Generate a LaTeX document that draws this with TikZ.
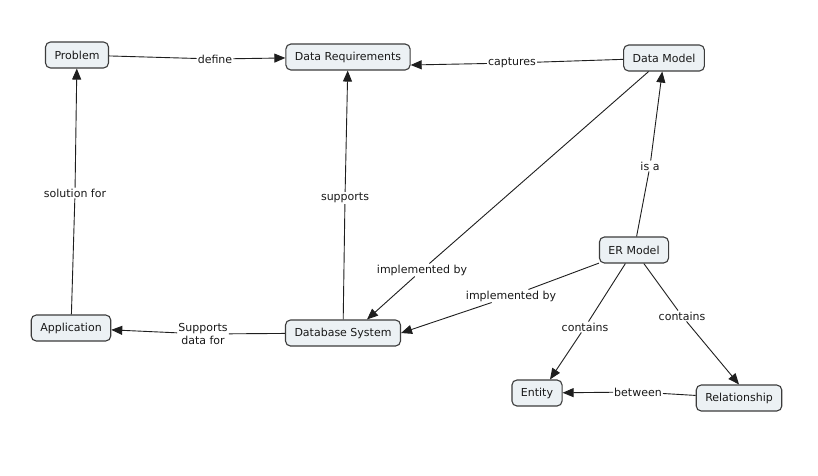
\documentclass[tikz,border=0pt]{standalone}
\usepackage{fontspec}
\setmainfont{DejaVu Sans}
\usetikzlibrary{arrows.meta}
\definecolor{boxfill}{RGB}{236,241,244}
\definecolor{boxdraw}{RGB}{60,60,60}
\definecolor{linec}{RGB}{30,30,30}
\begin{document}
\begin{tikzpicture}[x=1pt,y=-1pt,
  concept/.style={draw=boxdraw, line width=1.1pt, fill=boxfill, rounded corners=5pt,
    inner xsep=9pt, inner ysep=2pt, minimum height=26pt, text=black!90,
    font=\fontsize{11}{13}\selectfont},
  lbl/.style={inner sep=1pt, align=center, text=black!90, font=\fontsize{11}{13}\selectfont},
  link/.style={draw=linec, line width=0.9pt},
  arr/.style={link, -{Triangle[length=11pt,width=9pt]}}
]
\useasboundingbox[fill=white] (0,0) rectangle (818,475);

% concepts
\node[concept] (prob) at (77,55) {Problem};
\node[concept] (dreq) at (348,57) {Data Requirements};
\node[concept] (dm)   at (664,58) {Data Model};
\node[concept] (er)   at (634,250) {ER Model};
\node[concept] (app)  at (71,328) {Application};
\node[concept] (dbs)  at (343,333) {Database System};
\node[concept] (ent)  at (537,393) {Entity};
\node[concept] (rel)  at (739,398) {Relationship};

% linking phrases
\node[lbl] (l1)  at (215,59)  {define};
\node[lbl] (l2)  at (512,63)  {captures};
\node[lbl] (l3)  at (422,270) {implemented by};
\node[lbl] (l4)  at (511,296) {implemented by};
\node[lbl] (l5)  at (650,166) {is a};
\node[lbl] (l6)  at (345,198) {supports};
\node[lbl] (l7)  at (203,334) {Supports\\data for};
\node[lbl] (l8)  at (75,193)  {solution for};
\node[lbl] (l9)  at (585,327) {contains};
\node[lbl] (l10) at (682,316) {contains};
\node[lbl] (l11) at (638,392) {between};

% connections
\draw[link] (prob) -- (l1);  \draw[arr] (l1) -- (dreq);
\draw[link] (dm) -- (l2);    \draw[arr] (l2) -- ([yshift=-8pt]dreq.east);
\draw[link] (dm) -- (l3);    \draw[arr] (l3) -- ([xshift=24pt]dbs.north);
\draw[link] (er) -- (l4);    \draw[arr] (l4) -- (dbs.east);
\draw[link] (er) -- (l5);    \draw[arr] (l5) -- (dm);
\draw[link] (dbs) -- (l6);   \draw[arr] (l6) -- (dreq);
\draw[link] (dbs) -- (l7);   \draw[arr] (l7) -- (app);
\draw[link] (app) -- (l8);   \draw[arr] (l8) -- (prob);
\draw[link] (er) -- (l9);    \draw[arr] (l9) -- ([xshift=13pt]ent.north);
\draw[link] (er) -- (l10);   \draw[arr] (l10) -- (rel.north);
\draw[link] (rel) -- (l11);  \draw[arr] (l11) -- (ent);
\end{tikzpicture}
\end{document}
